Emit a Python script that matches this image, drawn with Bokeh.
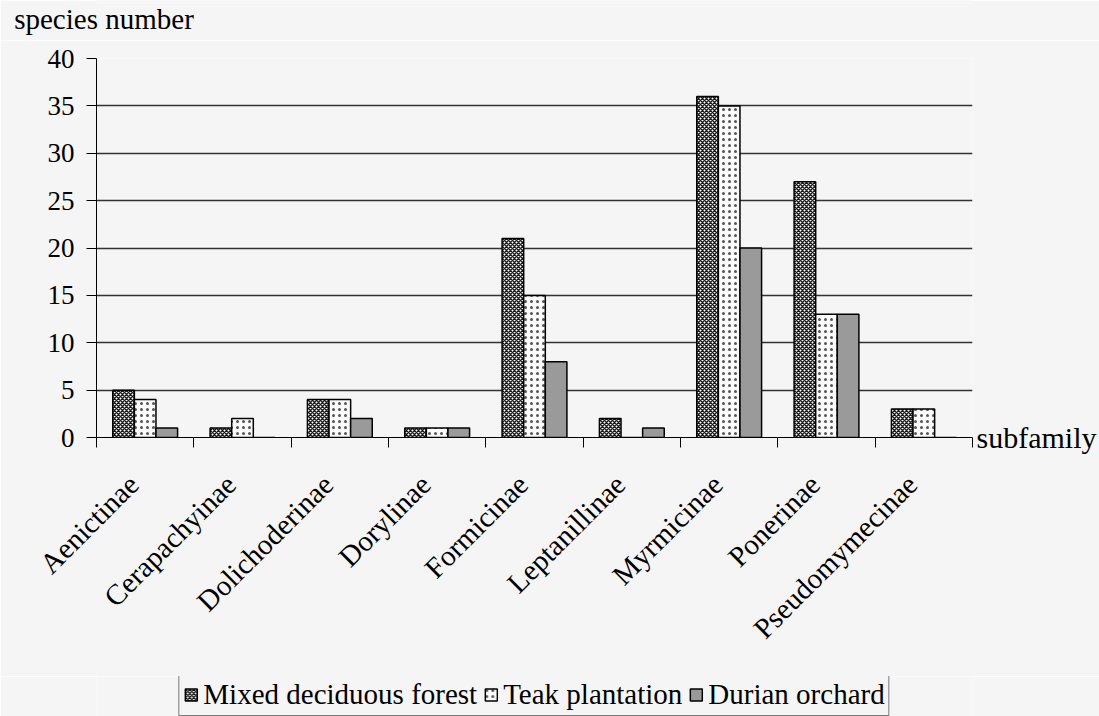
import math
from bokeh.plotting import figure
from bokeh.layouts import column
from bokeh.models import (ColumnDataSource, Range1d, FixedTicker, Legend, LegendItem,
                          LinearAxis)
from bokeh.transform import dodge
from bokeh.embed import file_html
from bokeh.resources import INLINE

categories = ["Aenictinae", "Cerapachyinae", "Dolichoderinae", "Dorylinae", "Formicinae",
              "Leptanillinae", "Myrmicinae", "Ponerinae", "Pseudomymecinae"]
mixed_forest = [5, 1, 4, 1, 21, 2, 36, 27, 3]
teak_plantation = [4, 2, 4, 1, 15, 0, 35, 13, 3]
durian_orchard = [1, 0, 2, 1, 8, 1, 20, 13, 0]
series_names = ["Mixed deciduous forest", "Teak plantation", "Durian orchard"]
series_cols = ["mixed", "teak", "durian"]
y_ticks = [0, 5, 10, 15, 20, 25, 30, 35, 40]

FONT = "Liberation Serif"
BG = "#f5f5f5"

STYLES = [
    dict(fill_color="white", hatch_pattern="diagonal_cross", hatch_color="#1a1a1a",
         hatch_scale=4, hatch_weight=1.5, line_color="black", line_width=1.5),
    dict(fill_color="#fbfbfb", hatch_pattern="dot", hatch_color="#555555",
         hatch_scale=6, hatch_weight=1.5, line_color="black", line_width=1.5),
    dict(fill_color="#9a9a9a", line_color="black", line_width=1.5),
]

n = len(categories)
centers = [i + 0.5 for i in range(n)]
source = ColumnDataSource(dict(x=centers, mixed=mixed_forest, teak=teak_plantation,
                               durian=durian_orchard))

LEFT, RIGHT = 96, 127
FRAME_W = 1099 - LEFT - RIGHT


def style_blank(f):
    f.background_fill_color = BG
    f.border_fill_color = BG
    f.outline_line_color = None
    f.xgrid.grid_line_color = None
    f.ygrid.grid_line_color = None


# ---- header strip: "species number"
hdr = figure(width=1099, height=40, output_backend="svg", toolbar_location=None,
             x_range=Range1d(0, FRAME_W), y_range=Range1d(0, 1), x_axis_type=None,
             y_axis_type=None, min_border_left=LEFT, min_border_right=RIGHT,
             min_border_top=0, min_border_bottom=38)
style_blank(hdr)
title_pos = 7.5
hax = LinearAxis(ticker=FixedTicker(ticks=[title_pos]),
                 major_label_overrides={title_pos: "species number"})
hax.axis_line_color = None
hax.major_tick_line_color = None
hax.minor_tick_line_color = None
hax.major_tick_out = 0
hax.major_tick_in = 0
hax.major_label_standoff = 0
hax.major_label_text_font = FONT
hax.major_label_text_font_size = "29px"
hax.major_label_text_color = "black"
hdr.add_layout(hax, "below")

# ---- main chart
p = figure(width=1099, height=636, output_backend="svg", toolbar_location=None,
           x_range=Range1d(0, n), y_range=Range1d(0, 40),
           min_border_left=LEFT, min_border_right=RIGHT, min_border_top=18,
           min_border_bottom=239, x_axis_type=None)
style_blank(p)

bw = 0.222
for off, col, st in zip([-bw, 0, bw], series_cols, STYLES):
    p.vbar(x=dodge("x", off, range=p.x_range), top=col, width=bw, source=source, **st)

p.yaxis.ticker = FixedTicker(ticks=y_ticks)
p.yaxis.major_label_text_font = FONT
p.yaxis.major_label_text_font_size = "27px"
p.yaxis.major_label_text_color = "black"
p.yaxis.major_tick_out = 10
p.yaxis.major_tick_in = 0
p.yaxis.minor_tick_line_color = None
p.yaxis.major_label_standoff = 12
p.yaxis.axis_line_color = "black"
p.yaxis.major_tick_line_color = "black"

p.ygrid.ticker = FixedTicker(ticks=y_ticks)
p.ygrid.grid_line_color = "#333333"
p.ygrid.grid_line_width = 1.3

# "subfamily" beside the end of the x axis
raxis = LinearAxis(ticker=FixedTicker(ticks=[0]), major_label_overrides={0: "subfamily"})
raxis.axis_line_color = None
raxis.major_tick_line_color = None
raxis.minor_tick_line_color = None
raxis.major_tick_out = 0
raxis.major_tick_in = 0
raxis.major_label_standoff = 4
raxis.major_label_text_font = FONT
raxis.major_label_text_font_size = "30px"
raxis.major_label_text_color = "black"
p.add_layout(raxis, "right")

# x axis: labels near category centres, tick marks at category boundaries
label_pos = [c - 0.12 for c in centers]
xaxis = LinearAxis(ticker=FixedTicker(ticks=label_pos, minor_ticks=list(range(n + 1))))
xaxis.major_label_overrides = {c: name for c, name in zip(label_pos, categories)}
xaxis.major_tick_line_color = None
xaxis.major_tick_out = 0
xaxis.major_tick_in = 0
xaxis.minor_tick_line_color = "black"
xaxis.minor_tick_out = 10
xaxis.minor_tick_in = 0
xaxis.axis_line_color = "black"
xaxis.major_label_orientation = math.pi / 4
xaxis.major_label_text_font = FONT
xaxis.major_label_text_font_size = "29px"
xaxis.major_label_text_color = "black"
xaxis.major_label_standoff = 32
p.add_layout(xaxis, "below")

# ---- legend strip below the chart (hidden renderers supply the legend swatches)
leg = figure(width=1099, height=40, output_backend="svg", toolbar_location=None,
             x_range=Range1d(0, n), y_range=Range1d(0, 40), x_axis_type=None,
             y_axis_type=None, min_border_left=LEFT, min_border_right=RIGHT,
             min_border_top=0, min_border_bottom=0)
style_blank(leg)
items = []
for name, col, st in zip(series_names, series_cols, STYLES):
    r = leg.vbar(x="x", top=col, width=bw, source=source, visible=False, **st)
    items.append(LegendItem(label=name, renderers=[r]))
legend = Legend(items=items, orientation="horizontal", location="bottom_center",
                label_text_font="Times New Roman", label_text_font_size="29px",
                label_text_color="black", glyph_width=15, glyph_height=15,
                label_standoff=5, spacing=6, padding=4, margin=0,
                inactive_fill_alpha=0.0,
                border_line_color="black", border_line_width=1.2,
                background_fill_color=BG, background_fill_alpha=1.0)
leg.add_layout(legend, "center")

layout = column(hdr, p, leg, spacing=0)
open("out.html", "w").write(file_html(layout, INLINE))
